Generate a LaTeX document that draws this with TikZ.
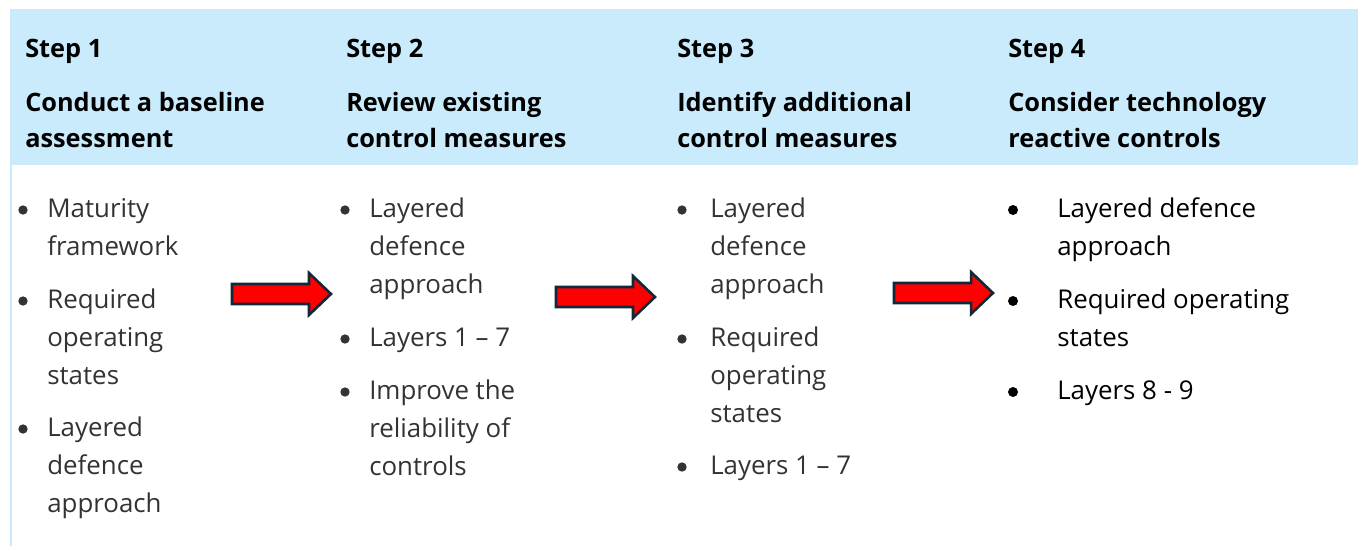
\documentclass[tikz,border=0pt]{standalone}
\usepackage{fontspec}
\setmainfont{Open Sans}
\definecolor{hdblue}{HTML}{CAEBFB}
\definecolor{txtgrey}{HTML}{333333}
\definecolor{rimnavy}{HTML}{10283A}
\tikzset{hd/.style={anchor=base west,inner sep=0pt,align=left,font=\fontsize{19}{27}\selectfont\bfseries},
bd/.style={anchor=base west,inner sep=0pt,align=left,text=txtgrey,font=\fontsize{19.4}{28.35}\selectfont},
dot/.style={circle,fill=txtgrey,inner sep=0pt,minimum size=7pt},
blk/.style={fill=red,draw=rimnavy,line width=1.9pt,line join=miter}}

\begin{document}
\begin{tikzpicture}[x=0.75pt,y=-0.75pt]
\useasboundingbox(0,0)rectangle(1358,546);
\fill[hdblue](10,9)rectangle(1358,165);
\draw[hdblue,line width=1.5pt](11,165)--(11,546);
% step headings (base anchor sits on the last line)
\node[hd](s1)at(25,57){Step 1};\node[hd](t1)at(25,147){Conduct a baseline\\assessment};
\node[hd](s2)at(346,57){Step 2};\node[hd](t2)at(346,147){Review existing\\control measures};
\node[hd](s3)at(677,57){Step 3};\node[hd](t3)at(677,147){Identify additional\\control measures};
\node[hd](s4)at(1008,57){Step 4};\node[hd](t4)at(1008,147){Consider technology\\reactive controls};
% bullet lists
\node[bd](a1)at(47,255){Maturity\\framework};
\node[bd](a2)at(47,384){Required\\operating\\states};
\node[bd](a3)at(47,512){Layered\\defence\\approach};
\node[bd](b1)at(369,293){Layered\\defence\\approach};
\node[bd](b2)at(369,346){Layers 1 – 7};
\node[bd](b3)at(369,475){Improve the\\reliability of\\controls};
\node[bd](c1)at(710,293){Layered\\defence\\approach};
\node[bd](c2)at(710,422){Required\\operating\\states};
\node[bd](c3)at(710,474){Layers 1 – 7};
\node[bd,text=black](d1)at(1057,255){Layered defence\\approach};
\node[bd,text=black](d2)at(1057,346){Required operating\\states};
\node[bd,text=black](d3)at(1057,399){Layers 8 - 9};
\foreach\x/\y in{23/217,23/308,23/436,345/217,345/346,345/399,682/217,682/346,682/474}\node[dot]at(\x,\y-7){};
\foreach\y in{217,308,399}\node[dot,fill=black,minimum size=7.5pt]at(1013,\y-7){};
% block arrows between the steps
\foreach\x/\y in{232/294,556/297,894/293}\draw[blk](\x,\y-10)--++(77,0)--++(0,-11)--++(22,21)--++(-22,21)--++(0,-11)--++(-77,0)--cycle;
\end{tikzpicture}
\end{document}
